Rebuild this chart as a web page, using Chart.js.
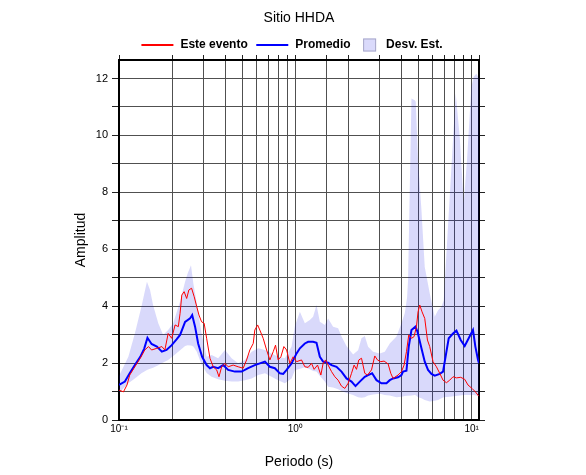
<!DOCTYPE html>
<html lang="es">
<head>
<meta charset="utf-8">
<title>Sitio HHDA</title>
<script src="https://cdn.jsdelivr.net/npm/chart.js@4.4.0/dist/chart.umd.min.js"></script>
<style>
  html, body { margin: 0; padding: 0; background: #fff; }
  #marco { width: 586px; height: 475px; }
</style>
</head>
<body>
<div id="marco"><canvas id="grafica" width="586" height="475"></canvas></div>
<script>
// ====================
// Datos
// ====================
const titulo = "Sitio HHDA";
const etiquetas = ["Este evento", "Promedio", "Desv. Est."];
const ejeX = "Periodo (s)";
const ejeY = "Amplitud";

// Este evento (linea roja)
const eventoPeriodo = [0.100, 0.106, 0.111, 0.115, 0.123, 0.132, 0.140, 0.147, 0.153, 0.164,
  0.175, 0.182, 0.190, 0.199, 0.208, 0.217, 0.222, 0.227, 0.234, 0.242,
  0.249, 0.258, 0.267, 0.276, 0.284, 0.294, 0.304, 0.314, 0.328, 0.342,
  0.358, 0.369, 0.382, 0.399, 0.416, 0.444, 0.474, 0.506, 0.529, 0.552,
  0.577, 0.589, 0.611, 0.629, 0.657, 0.687, 0.717, 0.749, 0.772, 0.799,
  0.828, 0.861, 0.892, 0.931, 0.972, 1.016, 1.084, 1.132, 1.182, 1.235,
  1.278, 1.336, 1.395, 1.437, 1.483, 1.534, 1.604, 1.675, 1.748, 1.827,
  1.908, 1.992, 2.082, 2.154, 2.222, 2.290, 2.372, 2.476, 2.565, 2.703,
  2.821, 2.922, 3.050, 3.185, 3.357, 3.477, 3.583, 3.823, 3.997, 4.135,
  4.266, 4.396, 4.554, 4.711, 4.861, 4.964, 5.075, 5.230, 5.417, 5.611,
  5.781, 6.036, 6.310, 6.588, 6.878, 7.190, 7.506, 7.837, 8.192, 8.663,
  9.126, 9.528, 10.04, 10.49, 10.96];
const eventoAmp = [1.05, 0.99, 1.23, 1.58, 1.87, 2.17, 2.46, 2.58, 2.46, 2.52,
  2.58, 2.46, 3.04, 2.87, 3.34, 3.28, 3.75, 4.39, 4.51, 4.27,
  4.57, 4.63, 4.33, 3.98, 3.69, 3.45, 3.40, 2.87, 2.17, 1.87,
  1.76, 1.52, 1.87, 1.99, 1.87, 1.93, 1.87, 1.82, 2.11, 2.46,
  2.69, 3.16, 3.34, 3.16, 2.87, 2.46, 2.11, 2.40, 2.63, 2.11,
  2.22, 2.58, 2.46, 1.99, 2.22, 2.05, 2.11, 1.87, 1.85, 1.99,
  1.78, 1.93, 1.58, 1.99, 2.11, 1.93, 1.70, 1.52, 1.40, 1.19,
  1.11, 1.29, 1.64, 1.93, 1.78, 2.11, 2.17, 1.64, 1.58, 1.76,
  2.25, 2.11, 2.05, 2.07, 1.97, 1.64, 1.46, 1.58, 1.70, 1.93,
  2.40, 2.99, 2.87, 2.93, 3.28, 3.80, 4.04, 3.80, 3.57, 2.81,
  2.58, 2.05, 1.87, 1.64, 1.40, 1.31, 1.40, 1.52, 1.48, 1.50,
  1.43, 1.23, 1.11, 0.99, 0.84];

// Promedio (linea azul)
const promedioPeriodo = [0.100, 0.108, 0.115, 0.123, 0.132, 0.139, 0.145, 0.153, 0.164, 0.175,
  0.186, 0.199, 0.212, 0.222, 0.237, 0.253, 0.260, 0.270, 0.281, 0.296,
  0.314, 0.328, 0.342, 0.365, 0.390, 0.416, 0.454, 0.496, 0.540, 0.589,
  0.629, 0.672, 0.717, 0.765, 0.817, 0.853, 0.892, 0.952, 1.016, 1.061,
  1.132, 1.182, 1.261, 1.318, 1.377, 1.437, 1.534, 1.604, 1.712, 1.827,
  1.950, 2.082, 2.193, 2.320, 2.476, 2.585, 2.724, 2.885, 3.078, 3.286,
  3.431, 3.583, 3.823, 3.997, 4.081, 4.266, 4.396, 4.554, 4.797, 4.925,
  5.188, 5.417, 5.655, 5.911, 6.171, 6.588, 6.878, 7.190, 7.409, 7.837,
  8.192, 8.663, 9.126, 9.616, 10.17, 10.49, 10.86, 11.0];
const promedioAmp = [1.23, 1.35, 1.64, 1.93, 2.22, 2.51, 2.89, 2.67, 2.58, 2.40,
  2.46, 2.63, 2.83, 2.99, 3.45, 3.57, 3.69, 3.28, 2.69, 2.22,
  1.93, 1.82, 1.87, 1.82, 1.93, 1.76, 1.70, 1.70, 1.82, 1.93,
  1.99, 2.05, 1.87, 1.82, 1.64, 1.62, 1.76, 1.99, 2.34, 2.52,
  2.69, 2.75, 2.75, 2.71, 2.22, 2.05, 2.01, 1.93, 1.87, 1.70,
  1.46, 1.35, 1.19, 1.35, 1.52, 1.58, 1.64, 1.40, 1.29, 1.29,
  1.40, 1.46, 1.50, 1.58, 1.70, 1.73, 2.58, 3.16, 3.28, 3.11,
  2.52, 2.05, 1.76, 1.62, 1.56, 1.62, 1.70, 2.40, 2.87, 3.04,
  3.14, 2.81, 2.60, 2.87, 3.16, 2.58, 2.11, 2.00];

// Desv. Est. (banda)
const bandaPeriodo = [0.100, 0.113, 0.123, 0.134, 0.144, 0.150, 0.156, 0.167, 0.178, 0.190,
  0.203, 0.222, 0.237, 0.245, 0.256, 0.264, 0.276, 0.294, 0.314, 0.335,
  0.365, 0.399, 0.435, 0.474, 0.518, 0.565, 0.616, 0.672, 0.733, 0.799,
  0.872, 0.952, 0.994, 1.061, 1.132, 1.208, 1.261, 1.318, 1.377, 1.469,
  1.534, 1.637, 1.748, 1.827, 1.950, 2.126, 2.269, 2.372, 2.476, 2.585,
  2.759, 3.011, 3.215, 3.431, 3.745, 3.997, 4.173, 4.300, 4.357, 4.554,
  4.754, 4.816, 4.964, 5.188, 5.417, 5.781, 6.171, 6.444, 6.737, 6.943,
  7.506, 8.117, 8.551, 9.007, 9.404, 9.961, 10.26, 10.63, 11.0];
const bandaAlta = [1.55, 2.22, 3.04, 3.98, 4.86, 4.57, 4.04, 3.40, 2.99, 3.16,
  3.40, 4.16, 4.86, 5.15, 5.44, 4.80, 4.10, 3.04, 2.22, 2.28,
  2.17, 2.46, 2.17, 1.99, 2.11, 2.40, 2.52, 2.46, 2.34, 2.22,
  2.17, 2.58, 3.30, 3.80, 3.40, 3.51, 3.63, 4.04, 3.45, 3.34,
  3.57, 3.28, 3.22, 2.93, 2.60, 2.30, 2.45, 2.87, 2.95, 2.57,
  2.40, 2.34, 2.40, 2.69, 2.93, 3.40, 3.75, 4.30, 4.92, 11.30,
  11.24, 11.18, 9.13, 7.38, 5.38, 4.45, 3.63, 3.86, 3.98, 4.21,
  7.85, 11.47, 9.95, 7.61, 9.13, 11.71, 12.06, 12.17, 12.00];
const bandaBaja = [0.95, 1.29, 1.46, 1.64, 1.76, 1.80, 1.84, 1.92, 2.02, 2.11,
  2.25, 2.45, 2.60, 2.63, 2.62, 2.58, 2.40, 1.95, 1.65, 1.52,
  1.43, 1.38, 1.35, 1.35, 1.40, 1.46, 1.58, 1.64, 1.52, 1.40,
  1.29, 1.46, 1.75, 1.80, 1.85, 1.78, 1.72, 1.70, 1.55, 1.35,
  1.17, 1.14, 1.08, 1.02, 0.95, 0.88, 0.80, 0.78, 0.80, 0.86,
  0.90, 0.92, 0.88, 0.86, 0.80, 0.82, 0.84, 0.85, 0.85, 0.86,
  0.88, 0.87, 0.80, 0.76, 0.70, 0.65, 0.68, 0.70, 0.76, 0.80,
  0.82, 0.84, 0.86, 0.88, 0.88, 0.88, 0.88, 0.86, 0.84];

// Limites de los ejes
const periodoMin = 0.1;
const periodoMax = 11;
const ampMin = 0;
const ampMax = 12.65;

// ====================
// Estilos
// ====================
const FUENTE = '"Liberation Sans", Arial, Helvetica, sans-serif';
const COLOR_ROJO = '#ff0000';
const COLOR_AZUL = '#0000ff';
const COLOR_BANDA = 'rgba(20, 20, 230, 0.16)';
const COLOR_GRILLA = '#505050';
const COLOR_MARCA = '#222';

Chart.defaults.font.family = FUENTE;
Chart.defaults.color = '#000';

// une dos listas en puntos {x, y}
function aPuntos(xs, ys) {
  return xs.map((x, i) => ({ x: x, y: ys[i] }));
}

// 10^n con superindice
const SUP = { '-': '\u207B', '0': '\u2070', '1': '\u00B9', '2': '\u00B2', '3': '\u00B3' };
function etiquetaPotencia(v) {
  const e = Math.log10(v);
  if (Math.abs(e - Math.round(e)) > 1e-6) return '';
  return '10' + String(Math.round(e)).split('').map(c => SUP[c] || c).join('');
}

// leyenda dibujada a mano (linea, linea, caja)
const leyenda = {
  id: 'leyenda',
  afterDraw(chart) {
    const ctx = chart.ctx;
    const y = 45;
    const items = [
      { tipo: 'linea', color: COLOR_ROJO, texto: etiquetas[0], sep: 8.5 },
      { tipo: 'linea', color: COLOR_AZUL, texto: etiquetas[1], sep: 12.5 },
      { tipo: 'caja', color: '#dadafb', texto: etiquetas[2], sep: 0 }
    ];
    ctx.save();
    ctx.font = 'bold 12px ' + FUENTE;
    ctx.textBaseline = 'middle';
    ctx.textAlign = 'left';
    let total = 0;
    items.forEach(it => {
      it.ancho = it.tipo === 'linea' ? 32 : 13;
      it.hueco = it.tipo === 'linea' ? 7 : 10;
      it.w = ctx.measureText(it.texto).width;
      total += it.ancho + it.hueco + it.w + it.sep;
    });
    let x = chart.width / 2 - 1 - total / 2;
    items.forEach(it => {
      if (it.tipo === 'linea') {
        ctx.strokeStyle = it.color;
        ctx.lineWidth = 2;
        ctx.beginPath();
        ctx.moveTo(x, y);
        ctx.lineTo(x + it.ancho, y);
        ctx.stroke();
      } else {
        ctx.fillStyle = it.color;
        ctx.fillRect(x, y - 6.5, 13, 13);
        ctx.strokeStyle = '#a8a8c8';
        ctx.lineWidth = 1;
        ctx.strokeRect(x + 0.5, y - 6, 12, 12);
      }
      x += it.ancho + it.hueco;
      ctx.fillStyle = '#000';
      ctx.fillText(it.texto, x, y);
      x += it.w + it.sep;
    });
    ctx.restore();
  }
};

const grafica = new Chart(document.getElementById('grafica'), {
  type: 'line',
  data: {
    datasets: [
      {
        label: etiquetas[0],
        data: aPuntos(eventoPeriodo, eventoAmp),
        borderColor: COLOR_ROJO,
        borderWidth: 1,
        pointRadius: 0,
        tension: 0,
        fill: false,
        order: 1
      },
      {
        label: etiquetas[1],
        data: aPuntos(promedioPeriodo, promedioAmp),
        borderColor: COLOR_AZUL,
        borderWidth: 2,
        pointRadius: 0,
        tension: 0,
        fill: false,
        order: 2
      },
      {
        label: etiquetas[2],
        data: aPuntos(bandaPeriodo, bandaAlta),
        borderWidth: 0,
        borderColor: 'rgba(0,0,0,0)',
        backgroundColor: COLOR_BANDA,
        pointRadius: 0,
        tension: 0,
        fill: '+1',
        order: 3
      },
      {
        label: 'banda baja',
        data: aPuntos(bandaPeriodo, bandaBaja),
        borderWidth: 0,
        borderColor: 'rgba(0,0,0,0)',
        pointRadius: 0,
        tension: 0,
        fill: false,
        order: 4
      }
    ]
  },
  options: {
    responsive: false,
    animation: false,
    layout: { padding: { left: 0, right: 101, top: 0, bottom: 0 } },
    plugins: {
      legend: { display: false },
      tooltip: { enabled: false },
      title: {
        display: true,
        text: titulo,
        fullSize: false,
        color: '#000',
        font: { size: 14, weight: 'normal' },
        padding: { top: 10, bottom: 27.2 }
      }
    },
    scales: {
      x: {
        type: 'logarithmic',
        position: 'bottom',
        min: periodoMin,
        max: periodoMax,
        title: {
          display: true, text: ejeX, color: '#000',
          font: { size: 14 }, padding: { top: 0, bottom: 4.6 }
        },
        ticks: {
          autoSkip: false, maxRotation: 0, minRotation: 0, padding: 3,
          color: '#000', font: { size: 10 },
          callback: v => etiquetaPotencia(v)
        },
        grid: { color: COLOR_GRILLA, lineWidth: 1, drawTicks: false },
        border: { color: '#000', width: 2 },
        afterFit: s => { s.height = 55; }
      },
      x2: {
        type: 'logarithmic',
        position: 'top',
        min: periodoMin,
        max: periodoMax,
        ticks: { display: false, autoSkip: false },
        grid: { drawOnChartArea: false, tickLength: 5, tickColor: COLOR_MARCA },
        border: { color: '#000', width: 2 },
        afterFit: s => { s.height = 6; }
      },
      y: {
        type: 'linear',
        position: 'left',
        min: ampMin,
        max: ampMax,
        title: {
          display: true, text: ejeY, color: '#000',
          font: { size: 14 }, padding: { top: 72.6, bottom: 0 }
        },
        ticks: {
          stepSize: 1, includeBounds: false, padding: 4,
          color: '#000', font: { size: 11 },
          callback: v => (v % 2 === 0 ? String(v) : '')
        },
        grid: { color: COLOR_GRILLA, lineWidth: 1, tickLength: 7, tickColor: COLOR_MARCA },
        border: { color: '#000', width: 2 },
        afterFit: s => { s.width = 119; }
      },
      y2: {
        type: 'linear',
        position: 'right',
        min: ampMin,
        max: ampMax,
        ticks: { display: false, stepSize: 1, includeBounds: false },
        grid: { drawOnChartArea: false, tickLength: 6, tickColor: COLOR_MARCA },
        border: { color: '#000', width: 2 },
        afterFit: s => { s.width = 6; }
      }
    }
  },
  plugins: [leyenda]
});
</script>
</body>
</html>
